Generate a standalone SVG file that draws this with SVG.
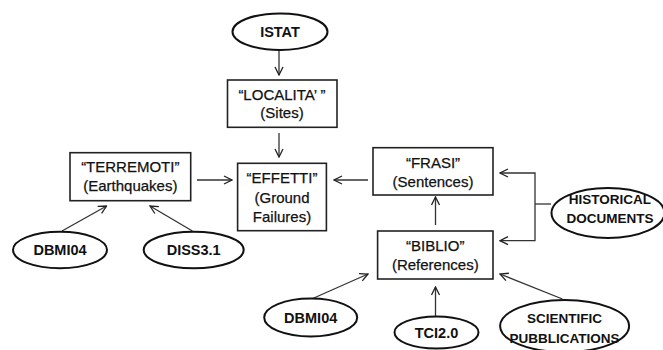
<svg xmlns="http://www.w3.org/2000/svg" width="663" height="350" viewBox="0 0 663 350">
<defs>
<marker id="ah" viewBox="0 0 10 10" refX="9" refY="5" markerWidth="10" markerHeight="10" markerUnits="userSpaceOnUse" orient="auto">
<polyline points="1,1 9,5 1,9" fill="none" stroke="#222" stroke-width="1.3"/>
</marker>
<style>
.box{fill:#fff;stroke:#222;stroke-width:1.6}
.ell{fill:#fff;stroke:#111;stroke-width:2}
.bt{font-family:"Liberation Sans",Arial,sans-serif;font-size:15px;fill:#111;text-anchor:middle;stroke:#111;stroke-width:0.25}
.et{font-family:"Liberation Sans",Arial,sans-serif;font-size:13.5px;font-weight:bold;fill:#111;text-anchor:middle}
.d{font-size:14.5px}
.c{fill:none;stroke:#333;stroke-width:1.3}
.ca{fill:none;stroke:#333;stroke-width:1.3;marker-end:url(#ah)}
</style>
</defs>
<rect width="663" height="350" fill="#fff"/>
<g id="connectors">
<line class="ca" x1="279" y1="50" x2="279" y2="75"/>
<line class="ca" x1="279" y1="133" x2="279" y2="157"/>
<line class="ca" x1="197" y1="180" x2="232" y2="180"/>
<line class="ca" x1="368" y1="180" x2="334" y2="180"/>
<line class="ca" x1="435.5" y1="225" x2="435.5" y2="197"/>
<polyline class="c" points="551,204 535,204"/>
<polyline class="ca" points="535,204 535,173 500,173"/>
<polyline class="ca" points="535,204 535,240.7 500,240.7"/>
<line class="ca" x1="62" y1="231" x2="106.6" y2="206"/>
<line class="ca" x1="192.4" y1="231" x2="150" y2="206"/>
<line class="ca" x1="311.6" y1="299" x2="368" y2="274"/>
<line class="ca" x1="435.5" y1="316" x2="435.5" y2="287"/>
<line class="ca" x1="562.4" y1="299" x2="500" y2="274"/>
</g>
<g id="istat"><ellipse class="ell" cx="280" cy="31.7" rx="47.5" ry="18.3"/><text class="et d" x="280" y="36.7">ISTAT</text></g>
<g id="localita"><rect class="box" x="227.5" y="80" width="109.5" height="47.3"/><text class="bt" x="282" y="100">“LOCALITA’ ”</text><text class="bt" x="282" y="118">(Sites)</text></g>
<g id="effetti"><rect class="box" x="237.6" y="163.3" width="88.8" height="67.4"/><text class="bt" x="282" y="183">“EFFETTI”</text><text class="bt" x="282" y="202.5">(Ground</text><text class="bt" x="282" y="222">Failures)</text></g>
<g id="terremoti"><rect class="box" x="70" y="152.7" width="120.7" height="48"/><text class="bt" x="130.3" y="172">“TERREMOTI”</text><text class="bt" x="130.3" y="190.5">(Earthquakes)</text></g>
<g id="frasi"><rect class="box" x="373" y="147.7" width="120" height="47.3"/><text class="bt" x="433" y="167.5">“FRASI”</text><text class="bt" x="433" y="187">(Sentences)</text></g>
<g id="biblio"><rect class="box" x="377.6" y="231" width="115.4" height="48"/><text class="bt" x="435.3" y="250.5">“BIBLIO”</text><text class="bt" x="435.3" y="270">(References)</text></g>
<g id="historical"><ellipse class="ell" cx="608" cy="213" rx="56.5" ry="25"/><text class="et" x="610" y="204">HISTORICAL</text><text class="et" x="610" y="222.6">DOCUMENTS</text></g>
<g id="dbmi04-left"><ellipse class="ell" cx="60" cy="250" rx="47" ry="18.3"/><text class="et d" x="60" y="255">DBMI04</text></g>
<g id="diss31"><ellipse class="ell" cx="193.7" cy="250" rx="50" ry="18.3"/><text class="et d" x="193.7" y="255">DISS3.1</text></g>
<g id="dbmi04-bottom"><ellipse class="ell" cx="310.7" cy="317.5" rx="46.5" ry="19"/><text class="et d" x="310.7" y="323">DBMI04</text></g>
<g id="tci20"><ellipse class="ell" cx="436.5" cy="332.5" rx="42" ry="16"/><text class="et d" x="436.5" y="338">TCI2.0</text></g>
<g id="scientific"><ellipse class="ell" cx="564.6" cy="326" rx="64.5" ry="26"/><text class="et" x="564.6" y="323">SCIENTIFIC</text><text class="et" x="564.6" y="343">PUBBLICATIONS</text></g>
</svg>
